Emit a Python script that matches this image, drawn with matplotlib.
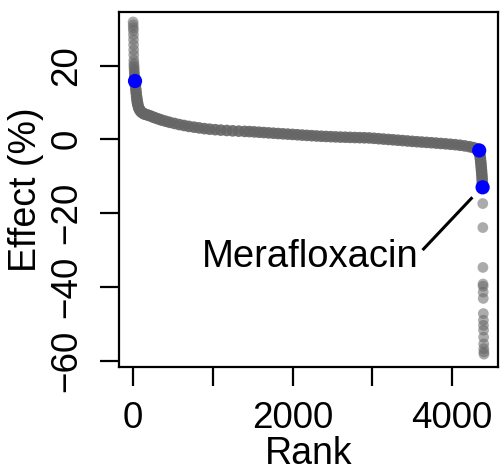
"""
Rank plot of compound effects, with Merafloxacin called out
"""
import matplotlib
matplotlib.use("Agg")
import matplotlib.pyplot as plt

plt.rcParams["font.family"] = ["Liberation Sans", "DejaVu Sans"]

COLOR_PT = "#666666"
COLOR_HIT = "blue"

# top tail, ranks 1..24 (%)
top_effects = [31.8, 31.0, 30.2, 29.5, 28.3, 27.0, 25.6, 24.2, 22.9, 21.5,
               20.6, 20.0, 19.5, 19.0, 18.5, 18.0, 17.6, 17.2, 16.9, 16.6,
               16.4, 16.2, 16.0, 15.9]

# body of the curve (rank, effect %)
body_ranks = [30, 35, 40, 45, 50, 55, 60, 70, 80, 95,
              110, 130, 150, 180, 210, 245, 280, 320, 360, 410,
              460, 520, 580, 640, 700, 765, 830, 895, 960, 1030,
              1100, 1175, 1250, 1325, 1400, 1460, 1520, 1580, 1640, 1700,
              1760, 1820, 1880, 1940, 2000, 2060, 2120, 2180, 2240, 2300,
              2360, 2420, 2480, 2540, 2600, 2660, 2720, 2780, 2840, 2900,
              2960, 3020, 3080, 3140, 3200, 3260, 3320, 3380, 3440, 3500,
              3560, 3620, 3680, 3740, 3800, 3860, 3920, 3980, 4040, 4100,
              4160, 4220, 4270, 4310, 4335,
              4345, 4350, 4355, 4359, 4363, 4366, 4369, 4372, 4375, 4377,
              4379, 4381]
body_effects = [14.6, 13.5, 12.5, 11.5, 10.7, 10.0, 9.4, 8.6, 8.1, 7.6,
                7.3, 7.0, 6.8, 6.6, 6.4, 6.1, 5.8, 5.5, 5.2, 4.9,
                4.6, 4.3, 4.0, 3.75, 3.5, 3.3, 3.1, 2.9, 2.75, 2.62,
                2.5, 2.4, 2.3, 2.22, 2.15, 2.10, 2.02, 1.93, 1.84, 1.75,
                1.66, 1.57, 1.49, 1.41, 1.33, 1.24, 1.15, 1.07, 0.99, 0.91,
                0.84, 0.78, 0.72, 0.66, 0.61, 0.57, 0.53, 0.49, 0.45, 0.42,
                0.38, 0.28, 0.17, 0.07, -0.03, -0.13, -0.23, -0.34, -0.44, -0.55,
                -0.65, -0.74, -0.83, -0.92, -1.02, -1.12, -1.22, -1.33, -1.45, -1.60,
                -1.78, -2.00, -2.25, -2.55, -2.85,
                -3.6, -4.4, -5.2, -6.0, -6.8, -7.6, -8.4, -9.2, -10.0, -10.8,
                -11.6, -12.4]

# bottom tail, ranks 4385..4400 (%)
bottom_effects = [-17.4, -23.9, -34.7, -39.2, -39.8, -41.4, -43.1, -47.2,
                  -49.0, -50.4, -51.7, -53.6, -55.4, -56.7, -57.6, -58.2]

# highlighted compounds
hit_ranks = [25, 4340, 4383]
hit_effects = [15.8, -3.0, -13.0]

label_text = "Merafloxacin"
label_pos = (3585, -34.6)
line_start = (3630, -30.0)
line_end = (4255, -15.7)


fig = plt.figure(figsize=(5.0, 4.76), dpi=100)
ax = fig.add_axes([0.238, 0.2296, 0.758, 0.7452])

top_ranks = list(range(1, len(top_effects) + 1))
bottom_ranks = list(range(4385, 4385 + len(bottom_effects)))

# sparse tails drawn see-through, dense body nearly solid
ax.scatter(top_ranks + bottom_ranks, top_effects + bottom_effects, s=60,
           color=COLOR_PT, alpha=0.55, edgecolors="none", zorder=2)
ax.scatter(body_ranks, body_effects, s=70, color=COLOR_PT, alpha=0.9,
           edgecolors="none", zorder=2)
ax.scatter(hit_ranks, hit_effects, s=105, color=COLOR_HIT,
           edgecolors="none", zorder=3)

ax.plot([line_start[0], line_end[0]], [line_start[1], line_end[1]],
        color="black", lw=2.2, solid_capstyle="butt", zorder=4)
ax.text(label_pos[0], label_pos[1], label_text, ha="right", va="baseline",
        fontsize=27.5)

ax.set_xlim(-176, 4576)
ax.set_ylim(-61.6, 34.5)
ax.set_xticks([0, 1000, 2000, 3000, 4000])
ax.set_xticklabels(["0", "", "2000", "", "4000"])
ax.set_yticks([-60, -40, -20, 0, 20])
ax.set_yticklabels(["\u221260", "\u221240", "\u221220", "0", "20"],
                   rotation=90, va="center")

for sp in ax.spines.values():
    sp.set_linewidth(1.6)
ax.tick_params(axis="both", length=14, width=1.6, labelsize=26.5, pad=11)
ax.set_xlabel("Rank", fontsize=27, labelpad=0)
ax.set_ylabel("Effect (%)", fontsize=27, labelpad=4)

fig.savefig("out.png", dpi=100)
